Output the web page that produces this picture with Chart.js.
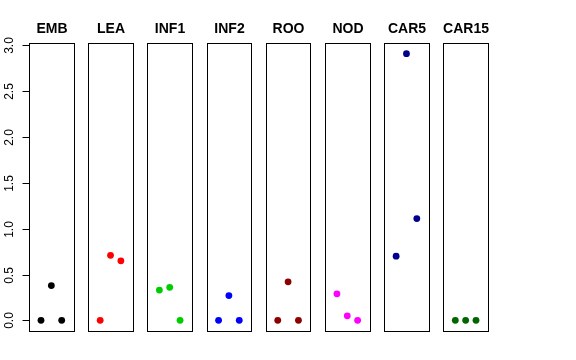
<!DOCTYPE html>
<html lang="en">
<head>
    <meta charset="UTF-8">
    <title>Stripchart panels</title>
    <script src="https://cdn.jsdelivr.net/npm/chart.js"></script>
    <style>
        body { margin: 0; background: #fff; }
        #wrap { width: 576px; height: 360px; }
    </style>
</head>
<body>
<div id="wrap"><canvas id="panels"></canvas></div>
<script>
    // tissues (one panel each)
    const tissues = ["EMB", "LEA", "INF1", "INF2", "ROO", "NOD", "CAR5", "CAR15"];
    // three replicates per tissue
    const emb   = [0, 0.38, 0];
    const lea   = [0, 0.71, 0.65];
    const inf1  = [0.33, 0.36, 0];
    const inf2  = [0, 0.27, 0];
    const roo   = [0, 0.42, 0];
    const nod   = [0.29, 0.05, 0];
    const car5  = [0.70, 2.91, 1.11];
    const car15 = [0, 0, 0];
    const replicates = [1, 2, 3];
    const yTicks = [0, 0.5, 1.0, 1.5, 2.0, 2.5, 3.0];
    const colors = ["#000000", "#FF0000", "#00CD00", "#0000FF", "#8B0000", "#FF00FF", "#00008B", "#006400"];

    const values = [emb, lea, inf1, inf2, roo, nod, car5, car15];

    // each panel spans x 0..4 (plus R's 4% padding), panels laid side by side
    const pad = 0.16;
    const panelW = 4 + 2 * pad;
    const pitch = 5.72;
    const yMin = -0.116, yMax = 3.026;

    const datasets = tissues.map((t, i) => ({
        label: t,
        data: values[i].map((v, k) => ({ x: i * pitch + pad + replicates[k], y: v })),
        backgroundColor: colors[i],
        borderColor: colors[i],
        pointRadius: 3.4,
        pointBorderWidth: 0,
        showLine: false
    }));

    const panelPlugin = {
        id: 'panels',
        beforeDatasetsDraw(chart) {
            const { ctx, scales: { x, y } } = chart;
            const top = y.getPixelForValue(yMax);
            const bottom = y.getPixelForValue(yMin);
            ctx.save();
            ctx.strokeStyle = '#000';
            ctx.lineWidth = 1;
            ctx.fillStyle = '#000';
            ctx.font = 'bold 14px "Liberation Sans", Arial, sans-serif';
            ctx.textAlign = 'center';
            ctx.textBaseline = 'middle';
            tissues.forEach((t, i) => {
                const l = Math.round(x.getPixelForValue(i * pitch)) + 0.5;
                const r = Math.round(x.getPixelForValue(i * pitch + panelW)) + 0.5;
                ctx.strokeRect(l, Math.round(top) + 0.5, r - l, Math.round(bottom) - Math.round(top));
                ctx.fillText(t, (l + r) / 2, 29);
            });
            // y axis on the first panel, R style
            const axX = Math.round(x.getPixelForValue(0)) + 0.5;
            ctx.font = '12px "Liberation Sans", Arial, sans-serif';
            yTicks.forEach(v => {
                const py = Math.round(y.getPixelForValue(v)) + 0.5;
                ctx.beginPath();
                ctx.moveTo(axX - 7, py);
                ctx.lineTo(axX, py);
                ctx.stroke();
                ctx.save();
                ctx.translate(10, py);
                ctx.rotate(-Math.PI / 2);
                ctx.fillText(v.toFixed(1), 0, 0);
                ctx.restore();
            });
            ctx.restore();
        }
    };

    new Chart(document.getElementById('panels'), {
        type: 'scatter',
        data: { datasets },
        options: {
            responsive: true,
            maintainAspectRatio: false,
            animation: false,
            layout: { padding: { left: 29, right: 88, top: 43, bottom: 29 } },
            plugins: { legend: { display: false }, tooltip: { enabled: false } },
            scales: {
                x: { type: 'linear', display: false, min: 0, max: 7 * pitch + panelW },
                y: { type: 'linear', display: false, min: yMin, max: yMax }
            }
        },
        plugins: [panelPlugin]
    });
</script>
</body>
</html>
